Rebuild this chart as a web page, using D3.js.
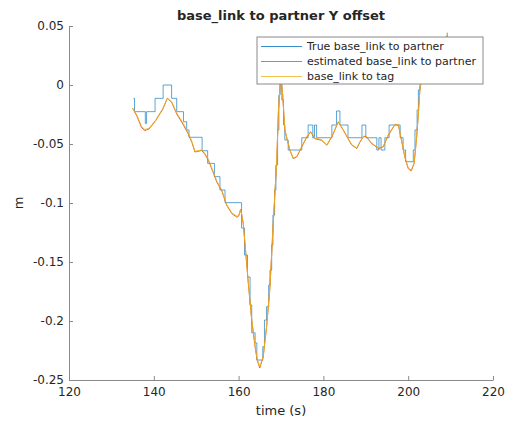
<!DOCTYPE html>
<html>
<head>
<meta charset="utf-8">
<script src="https://cdn.jsdelivr.net/npm/d3@7"></script>
<style>
  body { margin: 0; background: #fff; }
  text { font-family: "DejaVu Sans", sans-serif; fill: #262626; }
</style>
</head>
<body>
<script>
//series names for the legend
var seriesNames = ["True base_link to partner", "estimated base_link to partner", "base_link to tag"];

//tick values
var xTicks = [120, 140, 160, 180, 200, 220];
var yTicks = [0.05, 0, -0.05, -0.1, -0.15, -0.2, -0.25];

//true offset (step signal)
var trueT = [135.2, 135.45, 138.0, 138.3, 140.3, 142.2, 144.2, 145.4, 147.0, 147.75, 148.3, 151.4, 152.7, 154.3, 155.6, 156.8, 160.7, 161.4, 162.1, 162.7, 163.1, 163.9, 164.3, 165.7, 166.1, 166.6, 167.1, 167.4, 167.8, 168.1, 168.5, 168.8, 169.2, 169.5, 169.8, 170.2, 170.6, 170.9, 171.7, 174.9, 176.4, 177.5, 177.9, 178.4, 182.0, 183.1, 183.9, 185.8, 189.1, 190.0, 192.6, 193.1, 193.6, 194.5, 195.5, 198.1, 198.8, 199.4, 201.2, 201.6, 202.1, 202.4, 202.8, 204.0, 205.5, 207.0, 208.5, 209.2, 209.3];
var trueY = [-0.0113, -0.0226, -0.0325, -0.0226, -0.0113, 0.0, -0.0113, -0.0226, -0.0311, -0.0381, -0.0443, -0.0557, -0.0664, -0.0777, -0.089, -0.0997, -0.1212, -0.1441, -0.1627, -0.1864, -0.21, -0.2186, -0.2331, -0.2218, -0.1992, -0.1879, -0.1695, -0.1568, -0.1356, -0.1102, -0.089, -0.0678, -0.0381, -0.0085, 0.0042, -0.0127, -0.0339, -0.0466, -0.0551, -0.0447, -0.0339, -0.0447, -0.0339, -0.0447, -0.0339, -0.022, -0.0339, -0.0447, -0.0339, -0.0447, -0.0551, -0.0447, -0.0551, -0.0447, -0.0339, -0.0447, -0.0551, -0.065, -0.0551, -0.0381, -0.0212, -0.0042, 0.0085, 0.015, 0.024, 0.032, 0.038, 0.0441, 0.0441];

//estimated offset and tag offset
var estT = [135.0, 136.0, 137.1, 137.9, 138.9, 140.5, 142.1, 143.2, 144.2, 145.4, 147.0, 148.1, 149.0, 149.7, 150.4, 151.3, 152.1, 152.9, 154.0, 154.9, 156.0, 157.2, 158.4, 159.6, 160.0, 160.5, 161.1, 161.7, 162.3, 163.1, 163.9, 164.4, 165.0, 165.8, 166.6, 167.4, 168.0, 168.6, 169.0, 169.4, 169.8, 170.0, 170.4, 170.9, 172.1, 172.9, 173.7, 174.9, 176.1, 177.0, 178.0, 179.6, 180.8, 182.0, 183.5, 184.7, 185.8, 186.7, 187.9, 188.6, 189.4, 190.0, 191.4, 193.0, 194.1, 195.3, 196.9, 197.7, 198.5, 199.2, 200.0, 200.7, 201.4, 202.0, 202.4, 202.8, 205.1, 207.5, 209.2];
var estY = [-0.0197, -0.0262, -0.036, -0.0386, -0.0372, -0.0299, -0.0206, -0.0113, -0.0146, -0.0245, -0.034, -0.0414, -0.0488, -0.0568, -0.0562, -0.0555, -0.059, -0.064, -0.0742, -0.0826, -0.0894, -0.102, -0.109, -0.112, -0.1112, -0.1053, -0.1175, -0.143, -0.1685, -0.1995, -0.222, -0.2335, -0.2398, -0.2305, -0.205, -0.171, -0.1288, -0.0892, -0.0638, -0.0214, 0.0, 0.005, -0.0087, -0.0383, -0.0553, -0.0624, -0.061, -0.0525, -0.044, -0.0398, -0.0455, -0.0469, -0.051, -0.044, -0.0313, -0.0383, -0.0455, -0.051, -0.0538, -0.0485, -0.044, -0.0434, -0.0497, -0.0538, -0.0525, -0.0426, -0.0335, -0.0341, -0.0483, -0.061, -0.0709, -0.0728, -0.0666, -0.044, -0.0242, -0.0014, 0.021, 0.034, 0.042];
var tagY = [-0.0195, -0.0255, -0.0352, -0.0378, -0.0366, -0.0295, -0.02, -0.0112, -0.0142, -0.0236, -0.033, -0.0405, -0.048, -0.0562, -0.0557, -0.0549, -0.0582, -0.0633, -0.0733, -0.0818, -0.0887, -0.1014, -0.1084, -0.1112, -0.1108, -0.1054, -0.1168, -0.1422, -0.1678, -0.199, -0.2215, -0.2328, -0.2388, -0.2301, -0.2046, -0.1708, -0.1285, -0.0889, -0.0635, -0.0211, 0.0, 0.0052, -0.0083, -0.0379, -0.0549, -0.0618, -0.0606, -0.0521, -0.0436, -0.0394, -0.045, -0.0463, -0.0506, -0.0436, -0.031, -0.0379, -0.045, -0.0506, -0.0534, -0.0481, -0.0436, -0.043, -0.0492, -0.0534, -0.0521, -0.0422, -0.0331, -0.0337, -0.0479, -0.0606, -0.0703, -0.0722, -0.0662, -0.0436, -0.0238, -0.0012, 0.021, 0.034, 0.042];

var colors = ["#0072BD", "#D95319", "#EDB120"];

var width = 511, height = 422;
var margin = {left: 69, right: 18, top: 26, bottom: 42};

var svg = d3.select("body")
    .append("svg")
    .attr("width", width)
    .attr("height", height);

var x = d3.scaleLinear()
    .domain([120, 220])
    .range([margin.left, width - margin.right]);

var y = d3.scaleLinear()
    .domain([-0.25, 0.05])
    .range([height - margin.bottom, margin.top]);

//axes with inward ticks
var xAxis = d3.axisBottom(x)
    .tickValues(xTicks)
    .tickSizeInner(-4)
    .tickSizeOuter(0)
    .tickPadding(7)
    .tickFormat(d3.format("d"));

var yAxis = d3.axisLeft(y)
    .tickValues(yTicks)
    .tickSizeInner(-4)
    .tickSizeOuter(0)
    .tickPadding(5)
    .tickFormat(function(d){ return d === 0 ? "0" : String(+d.toFixed(2)); });

var gx = svg.append("g")
    .attr("transform", "translate(0," + (height - margin.bottom) + ")")
    .call(xAxis);

var gy = svg.append("g")
    .attr("transform", "translate(" + margin.left + ",0)")
    .call(yAxis);

[gx, gy].forEach(function(g){
    g.selectAll("path, line").attr("stroke", "#8a8a8a");
    g.selectAll("text")
        .style("font-family", "DejaVu Sans, sans-serif")
        .style("font-size", "12px")
        .attr("fill", "#262626");
});

//lines
var truePts = trueT.map(function(t, i){ return [t, trueY[i]]; });
var estPts = estT.map(function(t, i){ return [t, estY[i]]; });
var tagPts = estT.map(function(t, i){ return [t, tagY[i]]; });

var stepLine = d3.line()
    .x(function(d){ return x(d[0]); })
    .y(function(d){ return y(d[1]); })
    .curve(d3.curveStepAfter);

var smoothLine = d3.line()
    .x(function(d){ return x(d[0]); })
    .y(function(d){ return y(d[1]); });

svg.append("path")
    .datum(truePts)
    .attr("d", stepLine)
    .attr("fill", "none")
    .attr("stroke", colors[0])
    .attr("stroke-width", 0.8)
    .attr("stroke-opacity", 0.8);

svg.append("path")
    .datum(estPts)
    .attr("d", smoothLine)
    .attr("fill", "none")
    .attr("stroke", colors[1])
    .attr("stroke-width", 0.9);

svg.append("path")
    .datum(tagPts)
    .attr("d", smoothLine)
    .attr("fill", "none")
    .attr("stroke", colors[2])
    .attr("stroke-width", 0.9);

//title and axis labels
svg.append("text")
    .attr("x", (margin.left + width - margin.right) / 2)
    .attr("y", 20)
    .attr("text-anchor", "middle")
    .style("font-size", "13px")
    .style("font-weight", "bold")
    .attr("fill", "#000")
    .text("base_link to partner Y offset");

svg.append("text")
    .attr("x", (margin.left + width - margin.right) / 2)
    .attr("y", 415)
    .attr("text-anchor", "middle")
    .style("font-size", "13px")
    .text("time (s)");

svg.append("text")
    .attr("transform", "translate(23," + ((margin.top + height - margin.bottom) / 2) + ") rotate(-90)")
    .attr("text-anchor", "middle")
    .style("font-size", "13px")
    .text("m");

//legend
var legend = svg.append("g")
    .attr("transform", "translate(257,37)");

legend.append("rect")
    .attr("width", 226)
    .attr("height", 47)
    .attr("fill", "#fff")
    .attr("stroke", "#8a8a8a")
    .attr("stroke-width", 1);

seriesNames.forEach(function(name, i){
    var row = legend.append("g")
        .attr("transform", "translate(0," + (9.5 + i * 15) + ")");
    row.append("line")
        .attr("x1", 4).attr("x2", 45)
        .attr("stroke", colors[i])
        .attr("stroke-width", 0.8);
    row.append("text")
        .attr("x", 50)
        .attr("dy", "0.35em")
        .style("font-size", "11px")
        .text(name);
});
</script>
</body>
</html>
